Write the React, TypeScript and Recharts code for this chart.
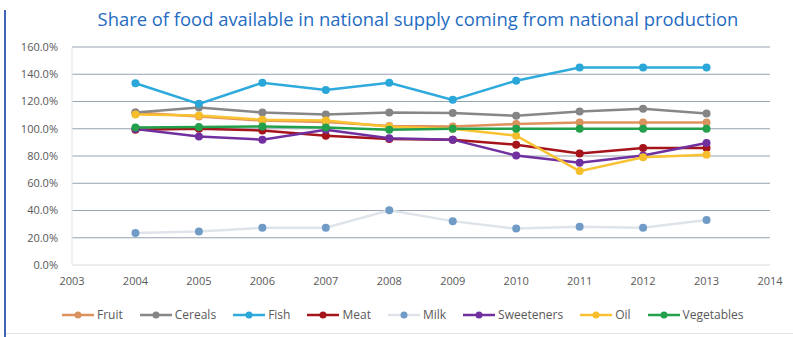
import React from 'react';
import { LineChart, Line, XAxis, YAxis, CartesianGrid } from 'recharts';

const years = [2004, 2005, 2006, 2007, 2008, 2009, 2010, 2011, 2012, 2013];
const fruit = [112, 109, 106, 105, 102, 101.7, 103.4, 104.6, 104.6, 104.6];
const cereals = [111.9, 115.6, 111.9, 110.5, 111.9, 111.5, 109.5, 112.6, 114.6, 111.2];
const fish = [133.4, 118.3, 133.8, 128.5, 133.8, 121.2, 135.3, 145, 145, 145];
const meat = [99.3, 100, 98.8, 94.9, 92.5, 92, 88.3, 81.8, 85.9, 85.9];
const milk = [23.5, 24.5, 27.3, 27.3, 40.2, 32.2, 26.7, 28, 27.3, 33];
const sweeteners = [99.8, 94.4, 92, 99.3, 93, 92, 80.3, 75, 80.3, 89.6];
const oil = [110.5, 109.7, 106.6, 106, 101.5, 100, 94.9, 68.9, 79, 81];
const vegetables = [101, 101.2, 101.7, 101, 99.3, 100, 100, 100, 100, 100];

const xTicks = [2003, 2004, 2005, 2006, 2007, 2008, 2009, 2010, 2011, 2012, 2013, 2014];
const yTicks = [0, 20, 40, 60, 80, 100, 120, 140, 160];

const series = [
  { key: 'Fruit', values: fruit, stroke: '#e0925c', dot: '#d9935f' },
  { key: 'Cereals', values: cereals, stroke: '#878787', dot: '#858585' },
  { key: 'Fish', values: fish, stroke: '#2eaadc', dot: '#2ba6d8' },
  { key: 'Meat', values: meat, stroke: '#a5141b', dot: '#a5141b' },
  { key: 'Milk', values: milk, stroke: '#dfe4ea', dot: '#6f9bc6' },
  { key: 'Sweeteners', values: sweeteners, stroke: '#7030a0', dot: '#7030a0' },
  { key: 'Oil', values: oil, stroke: '#f8c232', dot: '#f5be2a' },
  { key: 'Vegetables', values: vegetables, stroke: '#22a04b', dot: '#22a04b' },
];

const data = years.map((year, i) => {
  const row: Record<string, number> = { year };
  series.forEach((s) => {
    row[s.key] = s.values[i];
  });
  return row;
});

const font = '"Open Sans", "Liberation Sans", sans-serif';

const App: React.FC = () => {
  return (
    <div
      style={{
        position: 'absolute',
        left: 0,
        top: 0,
        width: 793,
        height: 337,
        background: '#ffffff',
        overflow: 'hidden',
        fontFamily: font,
      }}
    >
      {/* left border bar */}
      <div style={{ position: 'absolute', left: 4, top: 10, width: 2, height: 327, background: '#3f63b5' }} />
      {/* bottom rule */}
      <div style={{ position: 'absolute', left: 6, top: 333, width: 787, height: 1, background: '#e2e2e2' }} />

      <div
        style={{
          position: 'absolute',
          top: 6,
          left: 0,
          width: 836,
          textAlign: 'center',
          color: '#1f6cc2',
          fontSize: 18.4,
          whiteSpace: 'nowrap',
        }}
      >
        Share of food available in national supply coming from national production
      </div>

      <div style={{ position: 'absolute', left: 0, top: 0 }}>
        <LineChart
          width={793}
          height={300}
          data={data}
          margin={{ top: 47, right: 23, left: 12, bottom: 5 }}
        >
          <CartesianGrid
            vertical={false}
            stroke="#97a3b0"
            horizontalValues={[20, 40, 60, 80, 100, 120, 140, 160]}
          />
          <XAxis
            dataKey="year"
            type="number"
            domain={[2003, 2014]}
            ticks={xTicks}
            interval={0}
            tickLine={false}
            axisLine={{ stroke: '#d9d9d9' }}
            tick={{ fontSize: 11, fill: '#595959', fontFamily: font }}
            tickMargin={6}
            height={30}
          />
          <YAxis
            domain={[0, 160]}
            ticks={yTicks}
            interval={0}
            tickLine={false}
            axisLine={{ stroke: '#e3e3e3' }}
            tickFormatter={(v: number) => `${v.toFixed(1)}%`}
            tick={{ fontSize: 11, fill: '#595959', fontFamily: font }}
            tickMargin={8}
            width={60}
          />
          {series.map((s) => (
            <Line
              key={s.key}
              dataKey={s.key}
              type="linear"
              stroke={s.stroke}
              strokeWidth={2.5}
              dot={{ r: 4, fill: s.dot, stroke: s.dot, strokeWidth: 0 }}
              isAnimationActive={false}
            />
          ))}
        </LineChart>
      </div>

      {/* legend */}
      <div
        style={{
          position: 'absolute',
          top: 306,
          left: 62,
          display: 'flex',
          alignItems: 'center',
          gap: 17,
          fontSize: 12,
          color: '#595959',
        }}
      >
        {series.map((s) => (
          <div key={s.key} style={{ display: 'flex', alignItems: 'center' }}>
            <svg width={32} height={10} style={{ marginRight: 3 }}>
              <line x1={0} y1={5} x2={32} y2={5} stroke={s.stroke} strokeWidth={2.5} />
              <circle cx={16} cy={5} r={3.5} fill={s.dot} />
            </svg>
            <span>{s.key}</span>
          </div>
        ))}
      </div>
    </div>
  );
};

export default App;
